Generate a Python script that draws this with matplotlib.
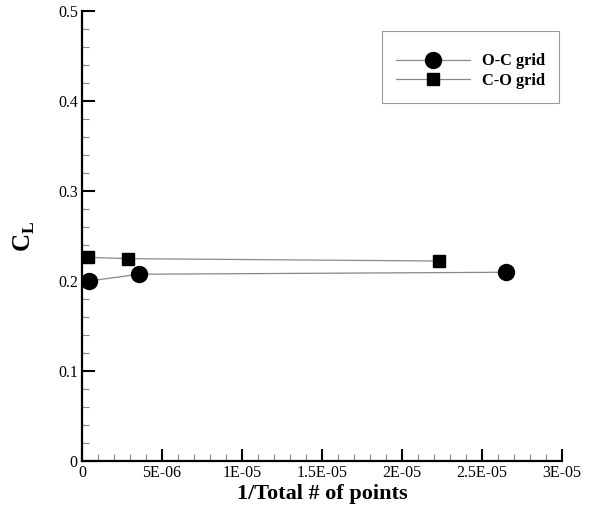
import matplotlib
matplotlib.use("Agg")
import matplotlib.pyplot as plt
from matplotlib.ticker import MultipleLocator, FixedLocator, FixedFormatter

# data
oc_x = [0.45e-6, 3.55e-6, 26.5e-6]
oc_cl = [0.200, 0.2075, 0.2097]
co_x = [0.37e-6, 2.9e-6, 22.3e-6]
co_cl = [0.2263, 0.2248, 0.2222]

xticks = [0, 5e-6, 1e-5, 1.5e-5, 2e-5, 2.5e-5, 3e-5]
xticklabels = ["0", "5E-06", "1E-05", "1.5E-05", "2E-05", "2.5E-05", "3E-05"]
yticks = [0, 0.1, 0.2, 0.3, 0.4, 0.5]
yticklabels = ["0", "0.1", "0.2", "0.3", "0.4", "0.5"]

plt.rcParams['font.family'] = ['Liberation Serif', 'DejaVu Serif']
plt.rcParams['mathtext.fontset'] = 'custom'
plt.rcParams['mathtext.bf'] = 'Liberation Serif:bold'

fig = plt.figure(figsize=(5.98, 5.07), dpi=100)
ax = fig.add_axes([0.137, 0.091, 0.803, 0.887])

ax.plot(oc_x, oc_cl, color='#888888', lw=0.9, marker='o', ms=11.5,
        mfc='black', mec='black', label='O-C grid')
ax.plot(co_x, co_cl, color='#888888', lw=0.9, marker='s', ms=8.5,
        mfc='black', mec='black', label='C-O grid')

ax.set_xlim(0, 3e-5)
ax.set_ylim(0, 0.5)
ax.xaxis.set_major_locator(FixedLocator(xticks))
ax.xaxis.set_major_formatter(FixedFormatter(xticklabels))
ax.yaxis.set_major_locator(FixedLocator(yticks))
ax.yaxis.set_major_formatter(FixedFormatter(yticklabels))
ax.xaxis.set_minor_locator(MultipleLocator(1e-6))
ax.yaxis.set_minor_locator(MultipleLocator(0.02))

ax.spines['top'].set_visible(False)
ax.spines['right'].set_visible(False)
ax.spines['left'].set_linewidth(1.6)
ax.spines['bottom'].set_linewidth(1.6)
ax.tick_params(which='major', direction='in', length=9, width=1.5,
               labelsize=11.5, pad=3)
ax.tick_params(which='minor', direction='in', length=5, width=0.8,
               color='#888888')

ax.set_xlabel('1/Total # of points', fontsize=16, fontweight='bold', labelpad=2)
ax.set_ylabel('C$_\\mathbf{L}$', fontsize=18, fontweight='bold', labelpad=15)

# empty title only pushes the rows down a little, like the original box
leg = ax.legend(loc='upper right', bbox_to_anchor=(0.994, 0.956),
                borderaxespad=0, title=' ', title_fontsize=5,
                prop={'weight': 'bold', 'size': 11.8}, fancybox=False,
                framealpha=1, edgecolor='#999999', handlelength=4.5,
                borderpad=0.85, labelspacing=0.22, handletextpad=0.75)
leg.get_frame().set_linewidth(0.8)

fig.savefig('out.png', dpi=100)
